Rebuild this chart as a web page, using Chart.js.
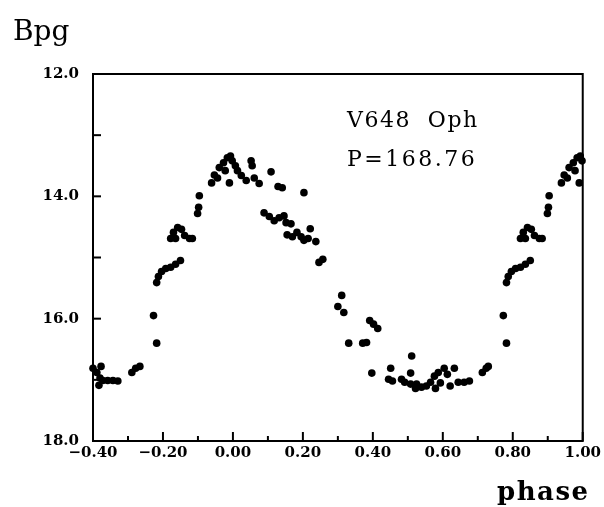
<!DOCTYPE html>
<html>
<head>
<meta charset="utf-8">
<script src="https://cdn.jsdelivr.net/npm/chart.js@4.4.1/dist/chart.umd.min.js"></script>
<style>
  html, body { margin: 0; padding: 0; background: #fff; }
  #wrap { width: 604px; height: 507px; position: relative; }
</style>
</head>
<body>
<div id="wrap"><canvas id="c" width="604" height="507"></canvas></div>
<script>
// ---- data ----
const phase = [
  -0.400,-0.389,-0.377,-0.383,-0.372,-0.358,-0.343,-0.329,-0.380,-0.289,-0.278,-0.266,
  -0.218,-0.227,-0.218,-0.213,-0.204,-0.192,-0.178,-0.164,-0.150,
  -0.178,-0.170,-0.158,-0.147,-0.138,-0.124,-0.116,-0.164,
  -0.101,-0.098,-0.096,-0.061,-0.053,-0.039,-0.027,-0.016,-0.007,-0.044,-0.022,
  -0.002,0.007,-0.010,0.013,0.024,0.038,0.052,0.061,0.075,0.055,0.109,0.129,0.141,0.203,
  0.089,0.104,0.118,0.132,0.146,0.152,0.166,0.155,0.170,0.183,0.195,0.221,0.203,0.215,0.237,
  0.246,0.257,0.311,0.300,0.317,0.391,0.402,0.414,0.331,0.371,0.382,
  0.511,0.451,0.397,0.445,0.456,0.482,0.508,0.491,0.508,0.525,0.539,0.553,0.565,0.576,0.587,
  0.604,0.613,0.633,0.593,0.621,0.644,0.661,0.676,0.713,0.724,0.730,0.579,0.522,
  0.782,0.773,0.782,0.787,0.796,0.808,0.822,0.836,0.850,
  0.822,0.830,0.842,0.853,0.862,0.876,0.884,0.836,
  0.899,0.902,0.904,0.939,0.947,0.961,0.973,0.984,0.993,0.956,0.978,0.998,0.990
];
const bmag = [
  16.81,16.88,16.78,17.09,17.01,17.01,17.01,17.02,16.97,16.88,16.81,16.78,
  16.40,15.95,15.41,15.31,15.23,15.18,15.16,15.11,15.05,
  14.69,14.59,14.51,14.54,14.64,14.69,14.69,14.69,
  14.28,14.18,13.99,13.78,13.65,13.53,13.45,13.37,13.34,13.70,13.58,
  13.42,13.50,13.78,13.58,13.66,13.74,13.42,13.70,13.79,13.50,13.60,13.84,13.86,13.94,
  14.27,14.33,14.40,14.35,14.32,14.43,14.45,14.63,14.66,14.59,14.66,14.53,14.72,14.69,14.74,
  15.08,15.03,15.62,15.80,15.90,16.03,16.09,16.16,16.40,16.40,16.39,
  16.61,16.81,16.89,16.99,17.02,16.99,16.89,17.04,17.07,17.07,17.12,17.10,17.04,16.94,16.88,
  16.81,16.91,16.81,17.05,17.10,17.04,17.04,17.02,16.88,16.81,16.78,17.14,17.14,
  16.40,15.95,15.41,15.31,15.23,15.18,15.16,15.11,15.05,
  14.69,14.59,14.51,14.54,14.64,14.69,14.69,14.69,
  14.28,14.18,13.99,13.78,13.65,13.53,13.45,13.37,13.34,13.70,13.58,13.42,13.78
];
const yLabelValues = [12, 14, 16, 18];
const yTitle = 'Bpg';
const xTitle = 'phase';
const starName = 'V648  Oph';
const periodText = 'P=168.76';

const points = phase.map((p, i) => ({ x: p, y: bmag[i] }));

const frameAndText = {
  id: 'frameAndText',
  afterDraw(chart) {
    const ctx = chart.ctx;
    const a = chart.chartArea;
    const xs = chart.scales.x, ys = chart.scales.y;
    ctx.save();
    ctx.strokeStyle = '#000';
    ctx.lineWidth = 2;
    ctx.strokeRect(a.left, a.top, a.right - a.left, a.bottom - a.top);
    // y ticks (inward)
    ys.ticks.forEach(t => {
      const y = ys.getPixelForValue(t.value);
      ctx.beginPath(); ctx.moveTo(a.left, y); ctx.lineTo(a.left + 8, y); ctx.stroke();
    });
    // x ticks: major + minor (inward)
    xs.ticks.forEach(t => {
      const x = xs.getPixelForValue(t.value);
      ctx.beginPath(); ctx.moveTo(x, a.bottom); ctx.lineTo(x, a.bottom - 9); ctx.stroke();
      const mv = t.value + 0.1;
      if (mv < xs.max - 1e-6) {
        const xm = xs.getPixelForValue(mv);
        ctx.beginPath(); ctx.moveTo(xm, a.bottom); ctx.lineTo(xm, a.bottom - 5); ctx.stroke();
      }
    });
    // texts
    ctx.fillStyle = '#000';
    ctx.textBaseline = 'alphabetic';
    ctx.textAlign = 'left';
    ctx.font = '28px "DejaVu Serif"';
    ctx.fillText(yTitle, 13, 40);
    ctx.font = 'bold 26px "DejaVu Serif"';
    ctx.letterSpacing = '1.5px';
    ctx.fillText(xTitle, 497, 500);
    ctx.font = '22px "DejaVu Serif"';
    ctx.letterSpacing = '1.5px';
    ctx.fillText(starName, 347, 127);
    ctx.letterSpacing = '2.5px';
    ctx.fillText(periodText, 347, 166);
    ctx.restore();
  }
};

new Chart(document.getElementById('c'), {
  type: 'scatter',
  data: {
    datasets: [{
      data: points,
      pointStyle: 'circle',
      pointRadius: 3.8,
      pointHoverRadius: 3.8,
      backgroundColor: '#000',
      borderColor: '#000',
      borderWidth: 0,
      clip: false
    }]
  },
  options: {
    responsive: false,
    animation: false,
    events: [],
    layout: { padding: { left: 0, right: 19, top: 74, bottom: 0 } },
    plugins: { legend: { display: false }, tooltip: { enabled: false }, title: { display: false } },
    scales: {
      x: {
        type: 'linear',
        min: -0.4, max: 1.0,
        grid: { display: false, drawTicks: false },
        border: { display: false },
        ticks: {
          stepSize: 0.2,
          padding: 3,
          color: '#000',
          font: { family: '"DejaVu Serif"', size: 15, weight: 'bold' },
          maxRotation: 0,
          autoSkip: false,
          callback: v => {
            const r = Math.round(v * 100) / 100;
            return (r < 0 ? '\u2212' : '') + Math.abs(r).toFixed(2);
          }
        },
        afterFit: s => { s.height = 66; }
      },
      y: {
        type: 'linear',
        reverse: true,
        min: 12, max: 18,
        grid: { display: false, drawTicks: false },
        border: { display: false },
        ticks: {
          stepSize: 1,
          padding: 14,
          color: '#000',
          font: { family: '"DejaVu Serif"', size: 15, weight: 'bold' },
          autoSkip: false,
          callback: v => yLabelValues.includes(v) ? v.toFixed(1) : ''
        },
        afterFit: s => { s.width = 93; }
      }
    }
  },
  plugins: [frameAndText]
});
</script>
</body>
</html>
